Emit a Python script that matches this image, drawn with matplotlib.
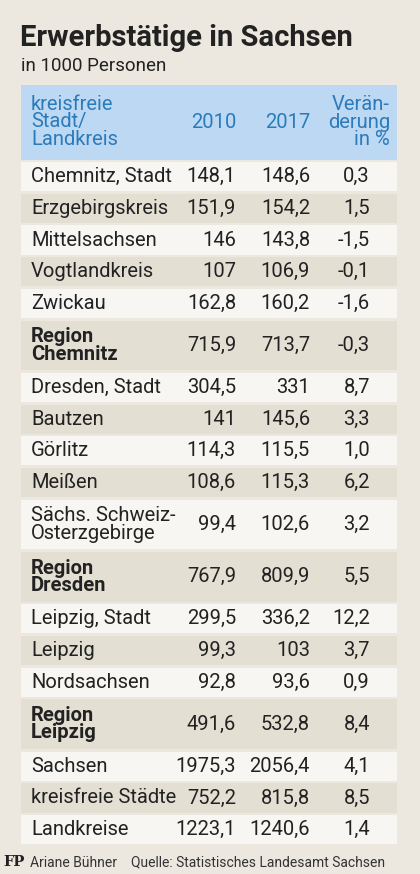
import matplotlib
matplotlib.use("Agg")
import matplotlib.pyplot as plt
from matplotlib.patches import Rectangle

names = ["Chemnitz, Stadt", "Erzgebirgskreis", "Mittelsachsen", "Vogtlandkreis", "Zwickau",
         "Region\nChemnitz", "Dresden, Stadt", "Bautzen", "Görlitz", "Meißen",
         "Sächs. Schweiz-\nOsterzgebirge", "Region\nDresden", "Leipzig, Stadt", "Leipzig",
         "Nordsachsen", "Region\nLeipzig", "Sachsen", "kreisfreie Städte", "Landkreise"]
v2010 = ["148,1", "151,9", "146", "107", "162,8", "715,9", "304,5", "141", "114,3", "108,6",
         "99,4", "767,9", "299,5", "99,3", "92,8", "491,6", "1975,3", "752,2", "1223,1"]
v2017 = ["148,6", "154,2", "143,8", "106,9", "160,2", "713,7", "331", "145,6", "115,5", "115,3",
         "102,6", "809,9", "336,2", "103", "93,6", "532,8", "2056,4", "815,8", "1240,6"]
change = ["0,3", "1,5", "-1,5", "-0,1", "-1,6", "-0,3", "8,7", "3,3", "1,0", "6,2",
          "3,2", "5,5", "12,2", "3,7", "0,9", "8,4", "4,1", "8,5", "1,4"]
bold = {5, 11, 15}

FONT = ['Roboto', 'DejaVu Sans']
fig = plt.figure(figsize=(4.2, 8.74), dpi=100)
fig.patch.set_facecolor('#ece8df')
ax = fig.add_axes([0, 0, 1, 1])
ax.set_xlim(0, 420); ax.set_ylim(874, 0); ax.axis('off')

ax.text(20, 38, "Erwerbstätige in Sachsen", fontsize=21, fontweight='bold', family=FONT,
        color='#222222', va='center')
ax.text(21, 66, "in 1000 Personen", fontsize=13.5, family=FONT, color='#222222', va='center')

L, R = 21, 397
ax.add_patch(Rectangle((L, 85), R - L, 75, color='#bcd8f2', lw=0))
blue = '#2b7bbb'
hs = 14.5
ax.text(31, 122, "kreisfreie\nStadt/\nLandkreis", fontsize=hs, family=FONT, color=blue,
        va='center', linespacing=0.9)
ax.text(236, 122, "2010", fontsize=hs, family=FONT, color=blue, va='center', ha='right')
ax.text(310, 122, "2017", fontsize=hs, family=FONT, color=blue, va='center', ha='right')
ax.text(390, 122, "Verän-\nderung\nin %", fontsize=hs, family=FONT, color=blue,
        va='center', ha='right', multialignment='right', linespacing=0.9)

y = 162
h1 = 31.7
for i, n in enumerate(names):
    h = h1 * 1.65 if "\n" in n else h1
    col = '#f7f6f2' if i % 2 == 0 else '#e4dfd3'
    ax.add_patch(Rectangle((L, y), R - L, h - 2.5, color=col, lw=0))
    cy = y + (h - 2.5) / 2
    ax.text(31, cy, n, fontsize=hs, family=FONT, color='#222222', va='center',
            fontweight='bold' if i in bold else 'normal', linespacing=0.9)
    ax.text(236, cy, v2010[i], fontsize=hs, family=FONT, color='#222222', va='center', ha='right')
    ax.text(310, cy, v2017[i], fontsize=hs, family=FONT, color='#222222', va='center', ha='right')
    ax.text(370, cy, change[i], fontsize=hs, family=FONT, color='#222222', va='center', ha='right')
    y += h

ax.text(3, 862, "FP", fontsize=10.5, fontweight='bold', family='DejaVu Serif', color='#222222', va='center')
ax.text(30, 862, "Ariane Bühner    Quelle: Statistisches Landesamt Sachsen", fontsize=10,
        family=FONT, color='#333333', va='center')

fig.savefig("out.png", dpi=100, facecolor=fig.get_facecolor())
